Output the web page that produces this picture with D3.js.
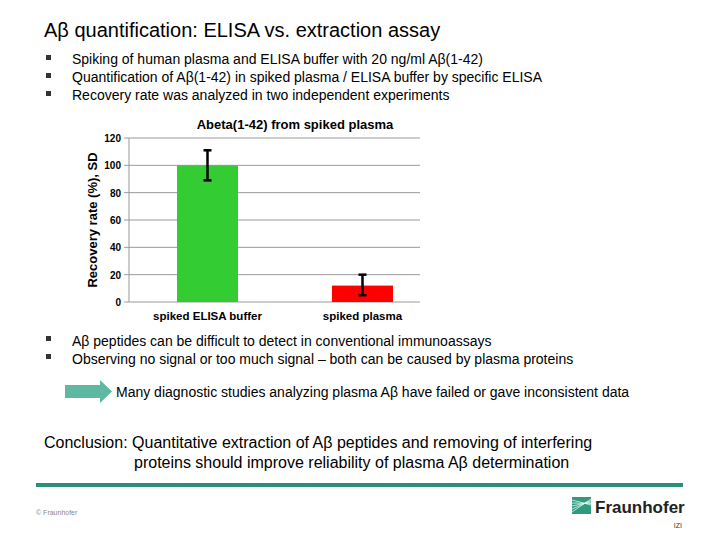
<!DOCTYPE html>
<html lang="en">
<head>
<meta charset="UTF-8">
<title>Abeta quantification</title>
<script src="https://d3js.org/d3.v7.min.js"></script>
<style>
  body { margin: 0; background: #fff; }
  text { font-family: "Liberation Sans", Arial, sans-serif; }
</style>
</head>
<body>
<script>
var categories = ["spiked ELISA buffer", "spiked plasma"];
var recovery = [100, 12];
var sdLow = [89, 5];
var sdHigh = [111, 20];
var yTicks = [0, 20, 40, 60, 80, 100, 120];
var barColors = ["#33cc33", "#ff0000"];

var svg = d3.select("body").append("svg").attr("width", 720).attr("height", 540);

svg.append("text").attr("x", 44).attr("y", 37).attr("font-size", 20).text("Aβ quantification: ELISA vs. extraction assay");

var bullets1 = ["Spiking of human plasma and ELISA buffer with 20 ng/ml Aβ(1-42)",
  "Quantification of Aβ(1-42) in spiked plasma / ELISA buffer  by specific ELISA",
  "Recovery rate was analyzed in two independent experiments"];
bullets1.forEach(function(t, i) {
  svg.append("rect").attr("x", 46).attr("y", 55 + i * 18).attr("width", 5).attr("height", 5).attr("fill", "#333");
  svg.append("text").attr("x", 72).attr("y", 64 + i * 18).attr("font-size", 14).text(t);
});

// chart
var y = d3.scaleLinear().domain([0, 120]).range([302, 138]);
var bx = d3.scaleOrdinal().domain(categories).range([177, 332]);

svg.append("text").attr("x", 295).attr("y", 129).attr("text-anchor", "middle")
  .attr("font-size", 13).attr("font-weight", "bold").text("Abeta(1-42) from spiked plasma");

var g = svg.append("g");
yTicks.forEach(function(t) {
  g.append("line").attr("x1", 124).attr("x2", 420).attr("y1", y(t)).attr("y2", y(t))
    .attr("stroke", "#999").attr("stroke-width", 1);
  g.append("text").attr("x", 121).attr("y", y(t) + 4).attr("text-anchor", "end")
    .attr("font-size", 10).attr("font-weight", "bold").text(t);
});
g.append("line").attr("x1", 129).attr("x2", 129).attr("y1", y(120)).attr("y2", y(0)).attr("stroke", "#999");

g.selectAll(".bar").data(categories).enter().append("rect")
  .attr("x", function(d) { return bx(d); })
  .attr("width", 61)
  .attr("y", function(d, i) { return y(recovery[i]); })
  .attr("height", function(d, i) { return y(0) - y(recovery[i]); })
  .attr("fill", function(d, i) { return barColors[i]; });

categories.forEach(function(c, i) {
  var cx = bx(c) + 30.5;
  g.append("line").attr("x1", cx).attr("x2", cx).attr("y1", y(sdLow[i])).attr("y2", y(sdHigh[i]))
    .attr("stroke", "#000").attr("stroke-width", 2.5);
  [sdLow[i], sdHigh[i]].forEach(function(v) {
    g.append("line").attr("x1", cx - 4).attr("x2", cx + 4).attr("y1", y(v)).attr("y2", y(v))
      .attr("stroke", "#000").attr("stroke-width", 2.5);
  });
  g.append("text").attr("x", cx).attr("y", 320).attr("text-anchor", "middle")
    .attr("font-size", 11.5).attr("font-weight", "bold").text(c);
});

svg.append("text").attr("transform", "translate(97,220) rotate(-90)").attr("text-anchor", "middle")
  .attr("font-size", 13).attr("font-weight", "bold").text("Recovery rate (%), SD");

var bullets2 = ["Aβ peptides can be difficult to detect in conventional immunoassays",
  "Observing no signal or too much signal – both can be caused by plasma proteins"];
bullets2.forEach(function(t, i) {
  svg.append("rect").attr("x", 46).attr("y", 336 + i * 18).attr("width", 5).attr("height", 5).attr("fill", "#333");
  svg.append("text").attr("x", 72).attr("y", 346 + i * 18).attr("font-size", 14).text(t);
});

svg.append("path").attr("d", "M65,385 L100,385 L100,380 L112,391.5 L100,403 L100,398 L65,398 Z").attr("fill", "#5fb8a2");
svg.append("text").attr("x", 116).attr("y", 397).attr("font-size", 14).text("Many diagnostic studies analyzing plasma Aβ have failed or gave inconsistent data");

svg.append("text").attr("x", 44).attr("y", 448).attr("font-size", 16).text("Conclusion: Quantitative extraction of Aβ peptides and removing of interfering");
svg.append("text").attr("x", 134).attr("y", 468).attr("font-size", 16).text("proteins should improve reliability of plasma Aβ determination");

svg.append("rect").attr("x", 36).attr("y", 483).attr("width", 647).attr("height", 4).attr("fill", "#2e8f78");
svg.append("text").attr("x", 36).attr("y", 515).attr("font-size", 7).attr("fill", "#888").text("© Fraunhofer");

// logo
var lg = svg.append("g");
lg.append("rect").attr("x", 572).attr("y", 497).attr("width", 19).attr("height", 17).attr("fill", "#2e9a7e");
[0, 1, 2, 3, 4].forEach(function(i) {
  lg.append("line").attr("x1", 572).attr("y1", 512 - i * 3).attr("x2", 591).attr("y2", 499 + i * 1.5)
    .attr("stroke", "#fff").attr("stroke-width", 0.7);
});
lg.append("text").attr("x", 595).attr("y", 513).attr("font-size", 17).attr("font-weight", "bold").attr("fill", "#222").text("Fraunhofer");
lg.append("text").attr("x", 682).attr("y", 528).attr("text-anchor", "end").attr("font-size", 7).attr("fill", "#333").text("IZI");
</script>
</body>
</html>
